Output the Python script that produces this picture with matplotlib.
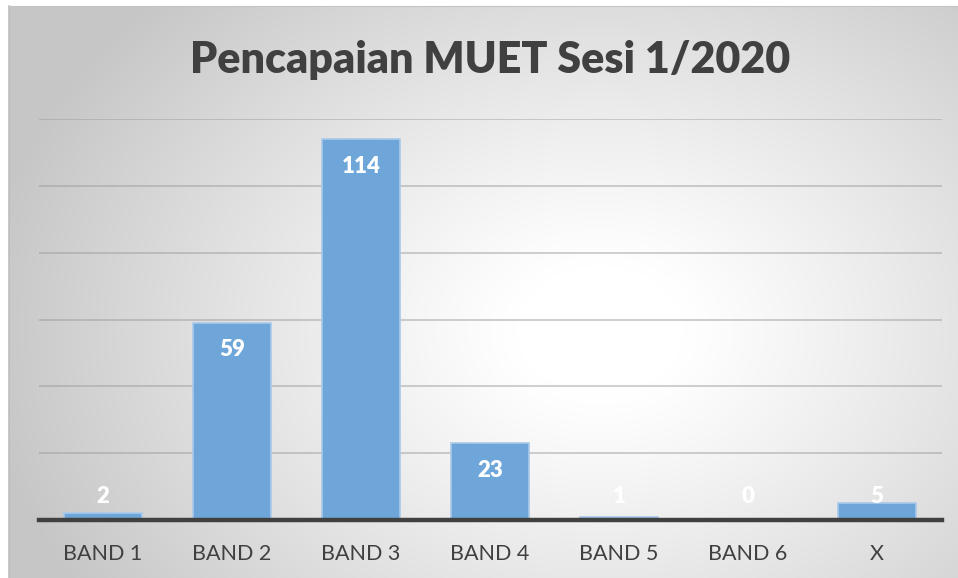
import numpy as np
import matplotlib
matplotlib.use('Agg')
import matplotlib.pyplot as plt

# Chart data
categories = ['BAND 1', 'BAND 2', 'BAND 3', 'BAND 4', 'BAND 5', 'BAND 6', 'X']
counts = [2, 59, 114, 23, 1, 0, 5]
title = 'Pencapaian MUET Sesi 1/2020'

W, H = 958, 578
fig = plt.figure(figsize=(W / 100, H / 100), dpi=100)
fig.patch.set_facecolor('white')

# radial gradient background for the chart area
bg = fig.add_axes([9 / W, 0, 1 - 9 / W, 1 - 6 / H])
yy, xx = np.mgrid[6:H, 9:W]
cx, cy = 600, 330
d = np.sqrt(((xx - cx) / 560.0) ** 2 + ((yy - cy) / 430.0) ** 2)
t = np.clip((d - 0.15) / 0.95, 0, 1) ** 1.1
shade = 1.0 - 0.22 * t
bg.imshow(np.dstack([shade, shade, shade]), aspect='auto', extent=[0, 1, 0, 1])
bg.set_xticks([])
bg.set_yticks([])
for s in ['right', 'bottom']:
    bg.spines[s].set_visible(False)
bg.spines['left'].set_color('#bdbdbd')
bg.spines['left'].set_linewidth(1.2)
bg.spines['top'].set_color('#c4c4c4')

# plot area: x 38.5..941.5, y baseline 520, 120 at 119
ax = fig.add_axes([38.5 / W, (H - 520) / H, 903 / W, 401 / H])
ax.set_facecolor('none')
x = np.arange(len(categories))
ax.bar(x, counts, width=0.6, color='#6fa6d9', edgecolor='#a9c9ea', linewidth=1.2, zorder=3)
ax.set_xlim(-0.5, len(categories) - 0.5)
ax.set_ylim(0, 120)
ax.set_yticks(np.arange(20, 121, 20))
ax.yaxis.grid(True, color='#9a9a9a', linewidth=1.1, alpha=0.6, zorder=0)
ax.tick_params(axis='y', left=False, labelleft=False)
ax.tick_params(axis='x', bottom=False, pad=14, labelsize=15.5, labelcolor='#404040')
ax.set_xticks(x)
ax.set_xticklabels(categories, fontfamily='Lato')
for s in ['top', 'right', 'left']:
    ax.spines[s].set_visible(False)
ax.spines['bottom'].set_color('#404040')
ax.spines['bottom'].set_linewidth(3.2)
ax.spines['bottom'].set_zorder(4)

# data labels: inside the top of the bar, kept clear of the axis for small bars
for xi, v in zip(x, counts):
    ax.text(xi, max(v - 8.1, 6.9), str(v), ha='center', va='center',
            color='white', fontsize=16, fontweight='heavy', fontfamily='Lato', zorder=5)

fig.text(490 / W, 1 - 60 / H, title, ha='center', va='center',
         fontsize=31, fontweight='heavy', color='#404040', fontfamily='Lato')

fig.savefig('out.png', dpi=100)
